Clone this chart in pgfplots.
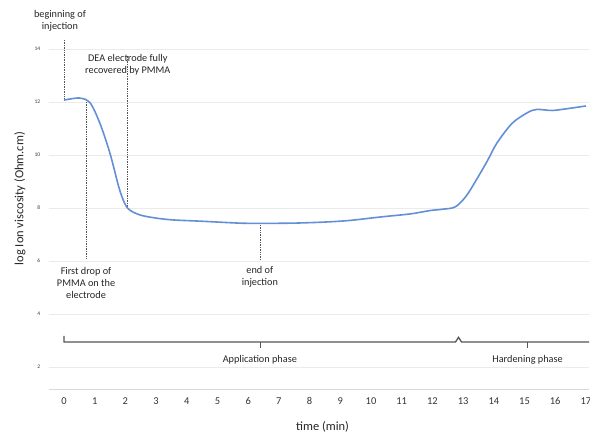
\documentclass[border=0pt]{standalone}
\usepackage{pgfplots}
\pgfplotsset{compat=1.18}
\usepackage{fontspec}
\setmainfont{Carlito}
\definecolor{curveblue}{RGB}{98,143,214}
\definecolor{annot}{RGB}{85,85,85}
\begin{document}
\begin{tikzpicture}
\begin{axis}[
  scale only axis,
  width=540.4bp, height=340bp,
  xmin=-0.5, xmax=17.1,
  ymin=1.17, ymax=14,
  clip=false,
  axis line style={draw=none},
  xtick={0,1,...,17},
  ytick={2,4,...,14},
  extra y ticks={1.17},
  extra y tick labels={},
  extra y tick style={grid=major, major grid style={draw=black!15, line width=0.8pt}},
  ymajorgrids,
  major grid style={draw=black!8, line width=0.8pt},
  major tick length=0pt,
  tick label style={font=\fontsize{10.5}{12}\selectfont, text=black!80},
  yticklabel style={font=\fontsize{5.5}{6}\selectfont, xshift=-5bp},
  xticklabel style={yshift=-5bp},
  /pgf/number format/assume math mode=true,
  xlabel={time (min)},
  ylabel={log Ion viscosity (Ohm.cm)},
  label style={font=\fontsize{12.5}{14}\selectfont, text=black!85},
  xlabel style={at={(axis description cs:0.507,-0.112)}, anchor=center},
  ylabel style={at={(axis description cs:-0.053,0.56)}, anchor=center, rotate=0},
]
% annotation lines
\addplot[annot, densely dotted, line width=0.7pt] coordinates {(0,14.34) (0,12.07)};
\addplot[annot, densely dotted, line width=0.7pt] coordinates {(0.72,12.0) (0.72,6.1)};
\addplot[annot, densely dotted, line width=0.7pt] coordinates {(2.07,13.75) (2.07,8.0)};
\addplot[annot, densely dotted, line width=0.7pt] coordinates {(6.4,7.42) (6.4,6.04)};
% phase bracket
\addplot[annot, line width=1.3pt] coordinates {(0,3.17) (0,2.94) (12.75,2.94) (12.85,3.12) (12.95,2.94) (17.1,2.94)};
\addplot[annot, line width=1.1pt] coordinates {(6.4,2.94) (6.4,2.72)};
\addplot[annot, line width=1.1pt] coordinates {(15.1,2.94) (15.1,2.72)};
% viscosity curve
\addplot[curveblue, line width=1.6pt, smooth, tension=0.5] coordinates {
(0,12.07) (0.5,12.15) (0.85,11.97) (1.17,11.2) (1.5,10.06) (1.82,8.66) (2.07,8.0)
(2.47,7.74) (3.0,7.62) (3.55,7.55) (4.5,7.5) (5.7,7.43) (6.4,7.42) (7.5,7.43)
(8.5,7.47) (9.3,7.53) (10.3,7.66) (11.3,7.78) (11.9,7.9) (12.3,7.95) (12.74,8.04)
(13.1,8.45) (13.45,9.1) (13.8,9.8) (14.1,10.45) (14.6,11.2) (15.1,11.6) (15.4,11.72)
(15.9,11.68) (16.4,11.75) (17.0,11.85)};
% annotation text
\begin{scope}[every node/.style={font=\fontsize{10.3}{12}\selectfont, text=black!85, align=center}]
\node at (axis cs:-0.13,15.08) {beginning of\\injection};
\node at (axis cs:2.08,13.4) {DEA electrode fully\\recovered by PMMA};
\node at (axis cs:0.72,5.17) {First drop of\\PMMA on the\\electrode};
\node at (axis cs:6.38,5.42) {end of\\injection};
\node at (axis cs:6.38,2.26) {Application phase};
\node at (axis cs:15.1,2.26) {Hardening phase};
\end{scope}
\end{axis}
\pgfresetboundingbox
\path[use as bounding box] (current axis.south west) ++(-48.6bp,-47bp) rectangle ++(590bp,436bp);
\end{tikzpicture}
\end{document}
